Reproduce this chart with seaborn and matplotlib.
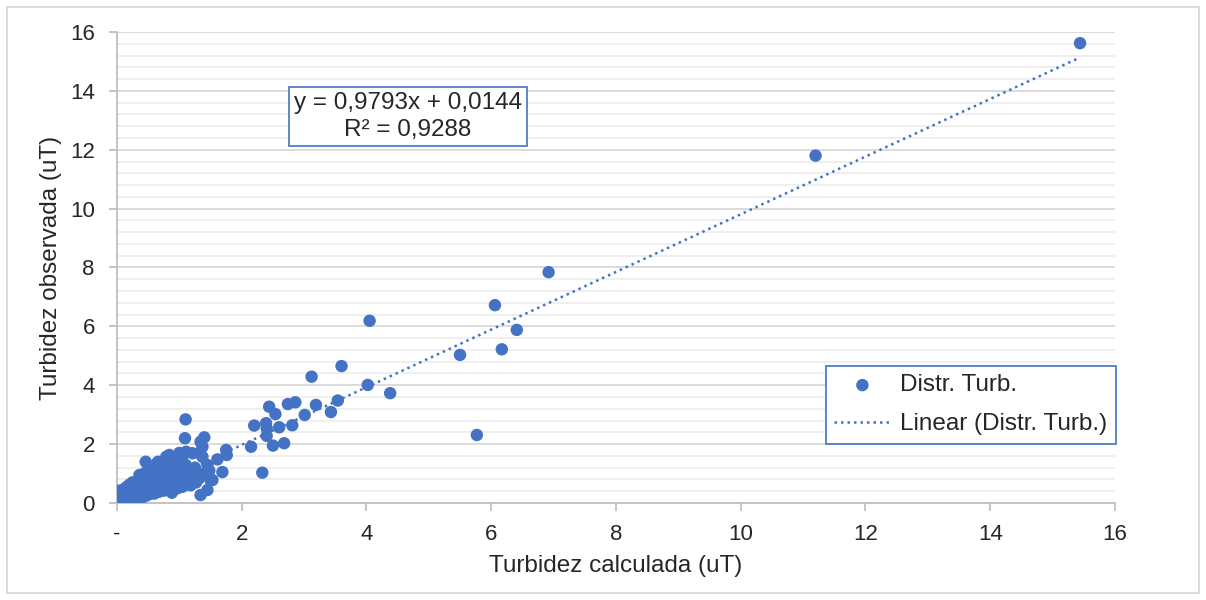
import numpy as np
import pandas as pd
import matplotlib.pyplot as plt
import seaborn as sns
from matplotlib.patches import Rectangle
from matplotlib.ticker import MultipleLocator

# Turbidez calculada (x) / observada (y)
calc = [0.02, 0.03, 0.05, 0.04, 0.06, 0.08, 0.10, 0.10, 0.12, 0.12, 0.14, 0.15, 0.16,
        0.18, 0.18, 0.20, 0.20, 0.22, 0.22, 0.24, 0.25, 0.26, 0.28, 0.28, 0.30, 0.30,
        0.32, 0.33, 0.34, 0.35, 0.36, 0.38, 0.38, 0.40, 0.40, 0.42, 0.43, 0.44, 0.45,
        0.46, 0.47, 0.48, 0.50, 0.50, 0.52, 0.53, 0.55, 0.56, 0.57, 0.58, 0.60, 0.60,
        0.62, 0.63, 0.64, 0.65, 0.66, 0.67, 0.68, 0.70, 0.70, 0.72, 0.73, 0.74, 0.75,
        0.76, 0.78, 0.79, 0.80, 0.80, 0.82, 0.83, 0.84, 0.85, 0.86, 0.87, 0.88, 0.90,
        0.91, 0.92, 0.93, 0.95, 0.96, 0.97, 0.98, 1.00, 1.00, 1.02, 1.03, 1.04, 1.05,
        1.06, 1.08, 1.09, 1.10, 1.10, 1.11, 1.12, 1.14, 1.15, 1.17, 1.18, 1.20,
        1.21, 1.23, 1.25, 1.27, 1.30, 1.32, 1.32, 1.34, 1.34, 1.37, 1.37, 1.40, 1.40,
        1.45, 1.45, 1.48, 1.50, 1.53, 1.61, 1.69, 1.75, 1.76,
        2.20, 2.39, 2.40, 2.60, 2.81, 2.40, 2.15, 2.50, 2.68, 2.33, 2.44, 2.54, 2.74,
        2.86, 3.19, 3.54, 3.43, 3.01, 3.12, 3.60, 4.02, 4.38, 4.05,
        5.50, 6.06, 6.17, 6.41, 6.92, 5.77, 11.20, 15.44]
obs = [0.05, 0.18, 0.30, 0.42, 0.12, 0.25, 0.08, 0.35, 0.20, 0.48, 0.10, 0.30, 0.55,
       0.15, 0.40, 0.25, 0.62, 0.10, 0.45, 0.32, 0.70, 0.18, 0.50, 0.28, 0.12, 0.60,
       0.38, 0.22, 0.75, 0.50, 0.95, 0.30, 0.62, 0.18, 0.45, 0.80, 0.35, 0.58, 1.02,
       1.40, 0.25, 0.70, 0.45, 0.90, 0.30, 0.60, 0.78, 0.40, 1.10, 0.55, 0.32, 0.95,
       0.68, 0.48, 1.35, 0.85, 1.40, 0.38, 0.60, 1.00, 0.75, 0.50, 1.20, 0.88, 0.42,
       0.65, 1.08, 1.57, 0.80, 0.55, 1.30, 0.95, 1.63, 0.45, 0.70, 1.15, 0.35, 0.90,
       1.45, 0.60, 1.05, 0.78, 1.25, 0.50, 0.95, 1.70, 0.65, 1.10, 0.85, 1.50, 0.55,
       0.75, 1.00, 2.20, 2.84, 1.30, 1.74, 0.68, 0.90, 1.15, 0.80, 0.60, 1.05,
       1.69, 0.85, 1.20, 0.70, 0.95, 0.84, 1.69, 2.08, 0.27, 1.91, 1.57, 2.23, 1.00,
       0.44, 1.29, 1.10, 0.78, 0.78, 1.48, 1.05, 1.80, 1.63,
       2.63, 2.71, 2.54, 2.57, 2.64, 2.28, 1.91, 1.95, 2.03, 1.03, 3.27, 3.02, 3.36,
       3.42, 3.33, 3.48, 3.09, 2.99, 4.29, 4.65, 4.01, 3.73, 6.19,
       5.03, 6.72, 5.22, 5.88, 7.84, 2.31, 11.80, 15.62]

# Linea de tendencia (Excel)
slope = 0.9793
intercept = 0.0144
r2 = 0.9288

BLUE = '#4472C4'


def main():
    sns.set_style('white')
    plt.rcParams['font.family'] = ['Liberation Sans', 'DejaVu Sans']

    df = pd.DataFrame({'calc': calc, 'obs': obs})
    xfit = np.array([min(calc), max(calc)])
    fit = pd.DataFrame({'x': xfit, 'y': slope * xfit + intercept})

    fig = plt.figure(figsize=(12.06, 6.0), dpi=100)
    ax = fig.add_axes([0.097, 0.1617, 0.8275, 0.785])

    sns.scatterplot(data=df, x='calc', y='obs', ax=ax, color=BLUE, s=80,
                    edgecolor='none', label='Distr. Turb.', zorder=3)
    sns.lineplot(data=fit, x='x', y='y', ax=ax, color=BLUE, lw=1.8,
                 linestyle=(0, (1, 1.6)), label='Linear (Distr. Turb.)', zorder=4)

    # Axes
    ax.set_xlim(0, 16)
    ax.set_ylim(0, 16)
    ax.xaxis.set_major_locator(MultipleLocator(2))
    ax.yaxis.set_major_locator(MultipleLocator(2))
    ax.yaxis.set_minor_locator(MultipleLocator(0.4))
    ax.set_xticks(range(0, 17, 2))
    ax.set_xticklabels(['-'] + [str(v) for v in range(2, 17, 2)])
    ax.grid(False)
    ax.grid(which='major', axis='y', color='#d9d9d9', lw=1.3, zorder=0)
    ax.grid(which='minor', axis='y', color='#ececec', lw=1.2, zorder=0)
    ax.set_axisbelow(True)
    for side in ['top', 'right']:
        ax.spines[side].set_visible(False)
    for side in ['left', 'bottom']:
        ax.spines[side].set_color('#bfbfbf')
        ax.spines[side].set_linewidth(1.3)
    ax.tick_params(which='major', length=6, width=1.3, color='#bfbfbf',
                   labelsize=16, labelcolor='#262626')
    ax.tick_params(which='minor', length=0)
    ax.tick_params(axis='x', direction='out', bottom=True, pad=9)
    ax.tick_params(axis='y', direction='out', left=True, pad=10)

    ax.set_xlabel('Turbidez calculada (uT)', fontsize=17.5, color='#262626', labelpad=7)
    ax.set_ylabel('Turbidez observada (uT)', fontsize=17.5, color='#262626', labelpad=6)

    # Equation box
    eq = 'y = 0,9793x + 0,0144\nR² = 0,9288'
    ax.text(4.66, 13.12, eq, ha='center', va='center', fontsize=17.5,
            color='#262626', linespacing=1.3,
            bbox=dict(boxstyle='square,pad=0.2', fc='white', ec=BLUE, lw=1.2))

    leg = ax.legend(loc='upper left', bbox_to_anchor=(0.7104, 0.2909),
                    borderaxespad=0, fontsize=17.5, frameon=True, fancybox=False,
                    framealpha=1, borderpad=0.35, handlelength=2.3,
                    handletextpad=0.4, labelspacing=0.68)
    leg.get_frame().set_edgecolor(BLUE)
    leg.get_frame().set_linewidth(1.2)
    for t in leg.get_texts():
        t.set_color('#262626')

    # Chart area border
    fig.patches.append(Rectangle((0.006, 0.012), 0.988, 0.976, transform=fig.transFigure,
                                 fill=False, ec='#d9d9d9', lw=1.3))

    plt.savefig('out.png', dpi=100)


if __name__ == "__main__":
    main()
